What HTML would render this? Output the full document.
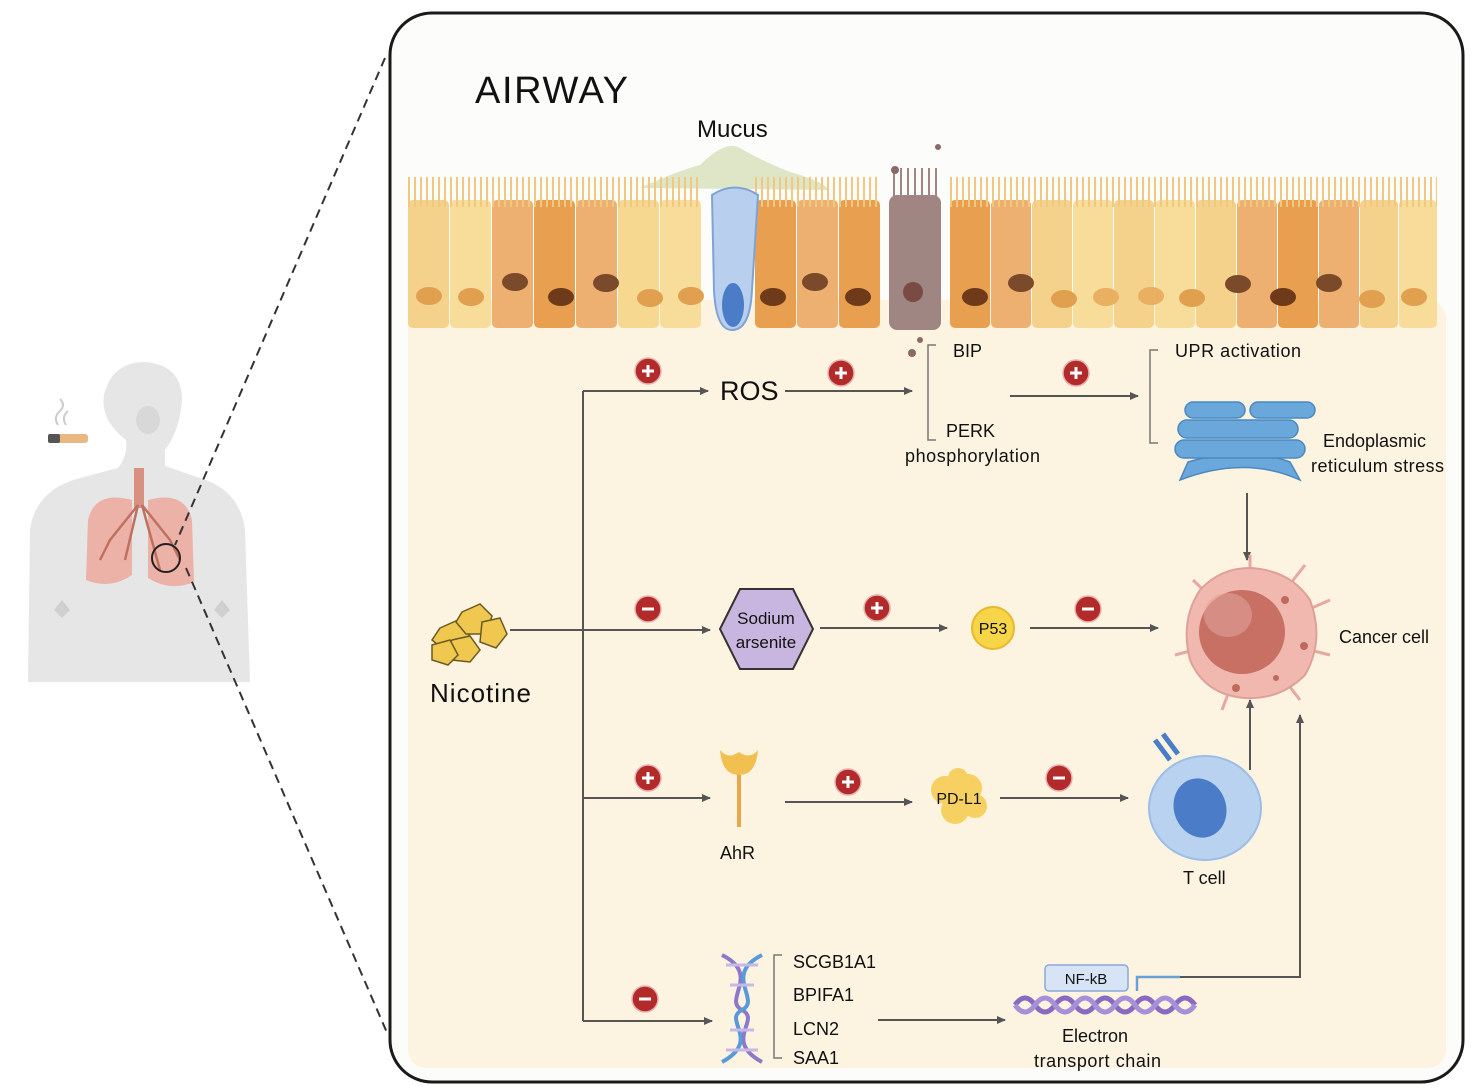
<!DOCTYPE html>
<html><head><meta charset="utf-8"><style>
html,body{margin:0;padding:0;background:#fff;}
svg{display:block;}
text{font-family:"Liberation Sans",Arial,sans-serif;fill:#111;}
</style></head><body>
<svg width="1476" height="1091" viewBox="0 0 1476 1091" xmlns="http://www.w3.org/2000/svg">
<defs>
<marker id="ah" markerWidth="10" markerHeight="10" refX="8" refY="5" orient="auto" markerUnits="userSpaceOnUse">
<path d="M0,1 L9,5 L0,9 Z" fill="#555"/></marker>
<g id="plus"><circle r="13" fill="#b22a2a"/><circle r="13" fill="none" stroke="#e8b0b0" stroke-width="1.5"/><path d="M-6,0H6M0,-6V6" stroke="#fff" stroke-width="3"/></g>
<g id="minus"><circle r="13" fill="#b22a2a"/><circle r="13" fill="none" stroke="#e8b0b0" stroke-width="1.5"/><path d="M-6,0H6" stroke="#fff" stroke-width="3"/></g>
</defs>
<rect width="1476" height="1091" fill="#fff"/>

<!-- human figure -->
<g>
<path d="M28,682 L30,530 Q35,490 80,478 L118,468 Q128,455 126,440 Q100,420 104,395 Q112,362 145,362 Q182,365 182,400 Q180,430 165,450 L165,466 L200,478 Q240,490 245,530 L250,682 Z" fill="#e6e6e6"/>
<ellipse cx="148" cy="420" rx="12" ry="14" fill="#d8d8d8"/>
<path d="M62,600 L70,610 L62,618 L54,610Z M222,600 L230,610 L222,618 L214,610Z" fill="#cfcfcf"/>
<rect x="48" y="434" width="40" height="9" rx="3" fill="#e8b880"/>
<rect x="48" y="434" width="12" height="9" rx="2" fill="#555"/>
<path d="M58,425 q-5,-8 2,-14 q6,-6 0,-12 M66,425 q-5,-8 2,-14" stroke="#ccc" stroke-width="2" fill="none"/>
<path d="M134,468 h10 v40 h-10z" fill="#d89080"/>
<path d="M132,500 Q95,490 88,520 L86,580 Q110,590 132,575 Z" fill="#ecb2a8"/>
<path d="M148,500 Q185,490 192,520 L194,582 Q170,592 148,578 Z" fill="#ecb2a8"/>
<path d="M138,505 L110,540 L100,560 M138,505 L125,560 M142,505 L170,540 L180,560 M142,505 L160,570" stroke="#c0705e" stroke-width="2.5" fill="none"/>
<circle cx="166" cy="558" r="14" fill="none" stroke="#222" stroke-width="2"/>
</g>
<!-- dashed lines -->
<path d="M385,58 L175,545" stroke="#333" stroke-width="2" stroke-dasharray="9,6"/>
<path d="M186,568 L388,1035" stroke="#333" stroke-width="2" stroke-dasharray="9,6"/>

<!-- main box -->
<rect x="390" y="13" width="1073" height="1069" rx="42" fill="#fcfcfb" stroke="#1a1a1a" stroke-width="3"/>
<rect x="408" y="300" width="1038" height="768" rx="18" fill="#fcf4e1"/>
<text x="475" y="103" font-size="38" font-weight="500" textLength="153">AIRWAY</text>
<text x="697" y="137" font-size="24">Mucus</text>
<path d="M640,188 Q680,170 700,165 Q725,140 740,148 Q760,160 790,172 Q820,180 830,190 Z" fill="#dfe6c8"/>

<!-- epithelium -->
<g>
<g>
<rect x="408" y="200" width="41" height="128" rx="5" fill="#f4d28c"/>
<rect x="450" y="200" width="41" height="128" rx="5" fill="#f7dc9a"/>
<rect x="492" y="200" width="41" height="128" rx="5" fill="#eeb070"/>
<rect x="534" y="200" width="41" height="128" rx="5" fill="#e8a050"/>
<rect x="576" y="200" width="41" height="128" rx="5" fill="#eeb070"/>
<rect x="618" y="200" width="41" height="128" rx="5" fill="#f7d890"/>
<rect x="660" y="200" width="41" height="128" rx="5" fill="#f7dc9a"/>
<rect x="755" y="200" width="41" height="128" rx="5" fill="#e8a050"/>
<rect x="797" y="200" width="41" height="128" rx="5" fill="#eeb070"/>
<rect x="839" y="200" width="41" height="128" rx="5" fill="#e8a050"/>
<rect x="950" y="200" width="40" height="128" rx="5" fill="#e8a050"/>
<rect x="991" y="200" width="40" height="128" rx="5" fill="#eeb070"/>
<rect x="1032" y="200" width="40" height="128" rx="5" fill="#f4d28c"/>
<rect x="1073" y="200" width="40" height="128" rx="5" fill="#f7dc9a"/>
<rect x="1114" y="200" width="40" height="128" rx="5" fill="#f4d28c"/>
<rect x="1155" y="200" width="40" height="128" rx="5" fill="#f7dc9a"/>
<rect x="1196" y="200" width="40" height="128" rx="5" fill="#f4d28c"/>
<rect x="1237" y="200" width="40" height="128" rx="5" fill="#eeb070"/>
<rect x="1278" y="200" width="40" height="128" rx="5" fill="#e8a050"/>
<rect x="1319" y="200" width="40" height="128" rx="5" fill="#eeb070"/>
<rect x="1360" y="200" width="38" height="128" rx="5" fill="#f4d28c"/>
<rect x="1399" y="200" width="38" height="128" rx="5" fill="#f7dc9a"/>
</g>
<path d="M408,200 h293 M755,200 h126 M950,200 h487" stroke="#f0c880" stroke-width="30" stroke-dasharray="2,4" transform="translate(0,-8)"/>
<!-- goblet -->
<path d="M712,195 Q735,180 758,195 L752,290 Q750,330 732,330 Q716,330 714,290 Z" fill="#b8d0ee" stroke="#7ea4d6" stroke-width="2"/>
<ellipse cx="733" cy="305" rx="11" ry="22" fill="#4a7cc8"/>
<!-- apoptotic -->
<rect x="889" y="195" width="52" height="135" rx="8" fill="#a08682"/>
<path d="M893,195 h44" stroke="#a08682" stroke-width="30" stroke-dasharray="2,5" transform="translate(0,-12)"/>
<circle cx="913" cy="292" r="10" fill="#7a4a44"/>
<circle cx="912" cy="353" r="4" fill="#8a6a66"/><circle cx="920" cy="340" r="3" fill="#8a6a66"/><circle cx="895" cy="170" r="4" fill="#8a6a66"/><circle cx="938" cy="147" r="3" fill="#8a6a66"/>
<!-- nuclei -->
<g>
<ellipse cx="429" cy="296" rx="13" ry="9" fill="#e0a050"/>
<ellipse cx="471" cy="297" rx="13" ry="9" fill="#e0a050"/>
<ellipse cx="515" cy="282" rx="13" ry="9" fill="#7a4a2a"/>
<ellipse cx="561" cy="297" rx="13" ry="9" fill="#6e3a1a"/>
<ellipse cx="606" cy="283" rx="13" ry="9" fill="#7a4a2a"/>
<ellipse cx="650" cy="298" rx="13" ry="9" fill="#e0a050"/>
<ellipse cx="691" cy="296" rx="13" ry="9" fill="#e0a050"/>
<ellipse cx="773" cy="297" rx="13" ry="9" fill="#6e3a1a"/>
<ellipse cx="815" cy="282" rx="13" ry="9" fill="#7a4a2a"/>
<ellipse cx="858" cy="297" rx="13" ry="9" fill="#6e3a1a"/>
<ellipse cx="975" cy="297" rx="13" ry="9" fill="#6e3a1a"/>
<ellipse cx="1021" cy="283" rx="13" ry="9" fill="#7a4a2a"/>
<ellipse cx="1064" cy="299" rx="13" ry="9" fill="#e0a050"/>
<ellipse cx="1106" cy="297" rx="13" ry="9" fill="#e8b060"/>
<ellipse cx="1151" cy="296" rx="13" ry="9" fill="#e8b060"/>
<ellipse cx="1192" cy="298" rx="13" ry="9" fill="#e0a050"/>
<ellipse cx="1238" cy="284" rx="13" ry="9" fill="#7a4a2a"/>
<ellipse cx="1283" cy="297" rx="13" ry="9" fill="#6e3a1a"/>
<ellipse cx="1329" cy="283" rx="13" ry="9" fill="#7a4a2a"/>
<ellipse cx="1372" cy="299" rx="13" ry="9" fill="#e0a050"/>
<ellipse cx="1414" cy="297" rx="13" ry="9" fill="#e0a050"/>
</g>
</g>

<!-- connectors -->
<g stroke="#555" stroke-width="2" fill="none">
<path d="M583,391 V1021"/>
<path d="M510,630 H583"/>
<path d="M583,391 H708" marker-end="url(#ah)"/>
<path d="M785,391 H912" marker-end="url(#ah)"/>
<path d="M1010,396 H1138" marker-end="url(#ah)"/>
<path d="M583,630 H710" marker-end="url(#ah)"/>
<path d="M820,628 H947" marker-end="url(#ah)"/>
<path d="M1030,628 H1158" marker-end="url(#ah)"/>
<path d="M583,798 H710" marker-end="url(#ah)"/>
<path d="M785,802 H912" marker-end="url(#ah)"/>
<path d="M1000,798 H1128" marker-end="url(#ah)"/>
<path d="M583,1021 H712" marker-end="url(#ah)"/>
<path d="M878,1020 H1005" marker-end="url(#ah)"/>
<path d="M1247,493 V560" marker-end="url(#ah)"/>
<path d="M1250,770 V700" marker-end="url(#ah)"/>
<path d="M1180,977 H1300 V715" marker-end="url(#ah)"/>
<path d="M936,345 H928 V440 H936" stroke="#777" stroke-width="1.5"/>
<path d="M1158,350 H1150 V443 H1158" stroke="#777" stroke-width="1.5"/>
<path d="M782,955 H774 V1058 H782" stroke="#777" stroke-width="1.5"/>
</g>

<use href="#plus" x="648" y="371"/><use href="#plus" x="841" y="373"/><use href="#plus" x="1076" y="373"/>
<use href="#minus" x="648" y="609"/><use href="#plus" x="877" y="608"/><use href="#minus" x="1088" y="609"/>
<use href="#plus" x="648" y="778"/><use href="#plus" x="848" y="782"/><use href="#minus" x="1059" y="778"/>
<use href="#minus" x="645" y="999"/>

<!-- text -->
<text x="720" y="400" font-size="27">ROS</text>
<text x="953" y="357" font-size="18">BIP</text>
<text x="946" y="437" font-size="18">PERK</text>
<text x="905" y="462" font-size="18" textLength="135">phosphorylation</text>
<text x="1175" y="357" font-size="18" textLength="126">UPR activation</text>
<text x="1323" y="447" font-size="18">Endoplasmic</text>
<text x="1311" y="472" font-size="18" textLength="133">reticulum stress</text>
<text x="1339" y="643" font-size="18">Cancer cell</text>
<text x="430" y="702" font-size="26" textLength="101">Nicotine</text>
<text x="720" y="859" font-size="18">AhR</text>
<text x="1183" y="884" font-size="18">T cell</text>
<text x="793" y="968" font-size="18">SCGB1A1</text>
<text x="793" y="1001" font-size="18">BPIFA1</text>
<text x="793" y="1035" font-size="18">LCN2</text>
<text x="793" y="1064" font-size="18">SAA1</text>
<text x="1062" y="1042" font-size="18">Electron</text>
<text x="1034" y="1067" font-size="18" textLength="127">transport chain</text>

<!-- nicotine -->
<g fill="#f0c850" stroke="#6a5a20" stroke-width="1.5">
<path d="M440,628 L458,620 L470,632 L464,650 L444,650 L432,640Z"/>
<path d="M462,612 L480,604 L492,616 L486,634 L466,634 L456,622Z"/>
<path d="M482,622 L500,618 L507,634 L496,648 L480,642Z"/>
<path d="M452,640 L470,636 L480,650 L470,662 L452,660 L446,650Z"/>
<path d="M432,645 L450,640 L458,655 L448,665 L432,660Z"/>
</g>

<!-- sodium arsenite -->
<path d="M740,589 L793,589 L813,629 L793,669 L740,669 L720,629Z" fill="#c8b6e0" stroke="#333" stroke-width="2"/>
<text x="766" y="624" font-size="17" text-anchor="middle">Sodium</text>
<text x="766" y="648" font-size="17" text-anchor="middle">arsenite</text>
<!-- P53 -->
<circle cx="993" cy="628" r="21" fill="#f6d548" stroke="#e8b830" stroke-width="2"/>
<text x="993" y="634" font-size="16" text-anchor="middle">P53</text>

<!-- AhR -->
<rect x="737" y="765" width="4" height="62" fill="#e8a848"/>
<path d="M720,750 Q722,775 739,775 Q756,775 758,750 Q750,760 739,752 Q728,760 720,750Z" fill="#f2c050"/>
<!-- PD-L1 -->
<g fill="#f6d060">
<circle cx="945" cy="790" r="14"/><circle cx="968" cy="788" r="14"/><circle cx="955" cy="810" r="14"/><circle cx="975" cy="806" r="12"/><circle cx="958" cy="778" r="10"/>
</g>
<text x="959" y="804" font-size="16" text-anchor="middle">PD-L1</text>

<!-- ER -->
<g fill="#6aa8dc" stroke="#4a88c0" stroke-width="1.5">
<path d="M1180,480 Q1245,455 1300,480 L1290,462 Q1245,445 1188,462 Z"/>
<rect x="1175" y="440" width="130" height="18" rx="9"/>
<rect x="1178" y="420" width="120" height="18" rx="9"/>
<rect x="1185" y="402" width="60" height="16" rx="8"/>
<rect x="1250" y="402" width="65" height="16" rx="8"/>
</g>

<!-- cancer cell -->
<g>
<g stroke="#e8a8a0" stroke-width="3">
<path d="M1250,635 L1250,555 M1250,635 L1305,565 M1250,635 L1330,600 M1250,635 L1330,655 M1250,635 L1300,700 M1250,635 L1222,710 M1250,635 L1175,655 M1250,635 L1193,580"/>
</g>
<path d="M1250,568 Q1290,570 1310,600 Q1325,640 1305,675 Q1280,700 1245,698 Q1205,695 1190,660 Q1180,620 1200,590 Q1220,568 1250,568Z" fill="#f0b8ae" stroke="#e0a098" stroke-width="2"/>
<ellipse cx="1242" cy="632" rx="43" ry="42" fill="#c87064"/>
<ellipse cx="1228" cy="615" rx="24" ry="22" fill="#e0a098" opacity=".6"/>
<circle cx="1285" cy="600" r="4" fill="#c06a5e"/><circle cx="1304" cy="646" r="4" fill="#c06a5e"/><circle cx="1236" cy="688" r="4" fill="#c06a5e"/><circle cx="1276" cy="678" r="3" fill="#c06a5e"/>
</g>

<!-- T cell -->
<g>
<path d="M1155,740 L1170,760 M1163,734 L1178,754" stroke="#4a7cc8" stroke-width="5"/>
<ellipse cx="1205" cy="808" rx="56" ry="52" fill="#b8d2f0" stroke="#9cbde6" stroke-width="2"/>
<ellipse cx="1200" cy="808" rx="26" ry="30" fill="#4a7cc8" transform="rotate(-20 1200 808)"/>
</g>

<!-- DNA -->
<g stroke-width="4" fill="none">
<path d="M722,955 C762,975 722,1000 742,1010 C762,1020 722,1040 762,1062" stroke="#8a7ac8"/>
<path d="M762,955 C722,975 762,1000 742,1010 C722,1020 762,1040 722,1062" stroke="#5a9ad8"/>
<path d="M726,965 H758 M730,985 H754 M730,1030 H754 M726,1050 H758" stroke="#c8b8e8" stroke-width="3"/>
</g>
<!-- NF-kB -->
<rect x="1045" y="965" width="83" height="26" rx="4" fill="#d6e4f6" stroke="#8aa8d8" stroke-width="1.5"/>
<text x="1086" y="984" font-size="15" text-anchor="middle" fill="#2a3a6a">NF-kB</text>
<path d="M1137,991 V977 H1180" stroke="#6aa0d8" stroke-width="2.5" fill="none"/>
<path d="M1015,1005 q10,-14 20,0 t20,0 t20,0 t20,0 t20,0 t20,0 t20,0 t20,0 t20,0" stroke="#8a6ac0" stroke-width="5" fill="none"/>
<path d="M1015,1005 q10,14 20,0 t20,0 t20,0 t20,0 t20,0 t20,0 t20,0 t20,0 t20,0" stroke="#a890d8" stroke-width="5" fill="none"/>
</svg>
</body></html>
